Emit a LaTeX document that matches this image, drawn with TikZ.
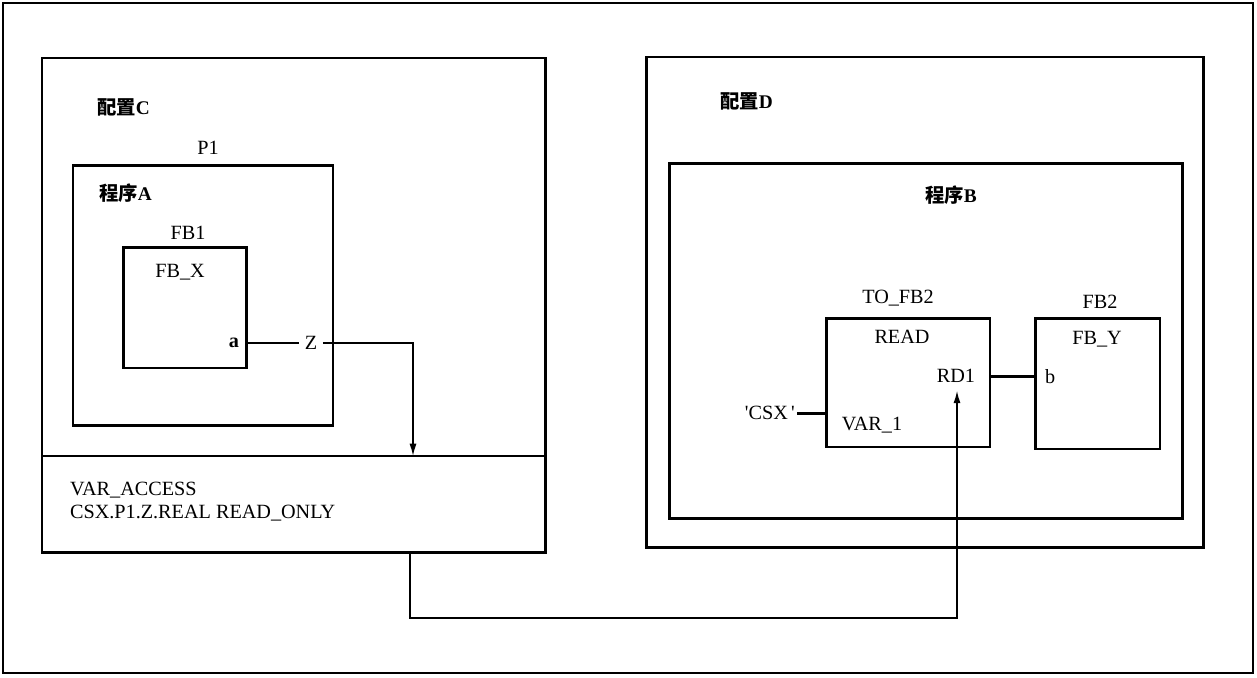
\documentclass[tikz,border=0pt]{standalone}
\usepackage{fontspec}
\setmainfont{Liberation Serif}
\newfontfamily\cjk{Noto Sans CJK SC}
\usepackage{tikz}
\usetikzlibrary{positioning,arrows.meta,calc}

\tikzset{
  framebox/.style={draw, line width=1.2pt},
  cfgbox/.style={draw, line width=1.7pt},
  fbbox/.style={draw, line width=1.7pt, inner sep=0pt},
  thinline/.style={line width=0.8pt},
  thickline/.style={line width=1.7pt},
  lbl/.style={inner sep=1pt, font=\fontsize{11.5}{13}\selectfont},
  cjklbl/.style={inner sep=1pt, font=\fontsize{11}{13}\selectfont\bfseries},
}
\newcommand{\zh}[1]{{\cjk\bfseries #1}}

\begin{document}
\begin{tikzpicture}[x=0.02cm, y=-0.02cm, >={Latex[length=7pt,width=4pt]}]
  \useasboundingbox (0,0) rectangle (1257,677);
  % outer frame and configurations
  \draw[framebox] (3,3) rectangle (1253,673);
  \draw[cfgbox] (42,58) rectangle (545,552);
  \draw[thinline] (42,456) -- (545,456);
  \draw[cfgbox] (646,57) rectangle (1203,547);
  \draw[cfgbox] (669,163) rectangle (1182,518);
  \draw[cfgbox] (73,165) rectangle (333,425);

  \node[cjklbl, anchor=west] (cfgc) at (95,107) {\zh{配置}C};
  \node[cjklbl, anchor=west] (cfgd) at (718,101) {\zh{配置}D};
  \node[lbl] (p1) at (208,148) {P1};
  \node[cjklbl, anchor=west] (proga) at (97,193) {\zh{程序}A};
  \node[cjklbl] (progb) at (951,195) {\zh{程序}B};

  % function blocks
  \node[fbbox, minimum width=2.48cm, minimum height=2.42cm] (fbx) at (185,307.5) {};
  \node[fbbox, minimum width=3.28cm, minimum height=2.58cm] (fbread) at (908,382.5) {};
  \node[fbbox, minimum width=2.5cm, minimum height=2.62cm] (fby) at (1097.5,383.5) {};

  \node[lbl] (fb1) at (188,233) {FB1};
  \node[lbl] (fbxname) at (180,272) {FB\_X};
  \node[lbl, anchor=east] (a) at (241,343) {\textbf{a}};
  \node[lbl, inner sep=3pt] (z) at (311,343) {Z};

  \node[lbl] (tofb2) at (898,298) {TO\_FB2};
  \node[lbl] (read) at (902,337) {READ};
  \node[lbl] (rd1) at (956,376) {RD1};
  \node[lbl] (var1) at (872,425) {VAR\_1};
  \node[lbl, anchor=east] (csx) at (797,413) {\textquotesingle CSX\,\textquotesingle};

  \node[lbl] (fb2) at (1100,302) {FB2};
  \node[lbl] (fbyname) at (1097,339) {FB\_Y};
  \node[lbl, anchor=west] (b) at (1043,377) {b};

  \node[lbl, anchor=west, align=left, font=\fontsize{11.5}{13}\selectfont] (access) at (68,501.5)
    {VAR\_ACCESS\\CSX.P1.Z.REAL READ\_ONLY};

  % connections
  \coordinate (accin) at (413,456);
  \coordinate (cfgcout) at (410,552);
  \draw[thinline] (a.east -| fbx.east) -- (z.west);
  \draw[thinline, ->] (z.east) -| (accin);
  \draw[thickline] (fbread.east |- rd1) -- (fby.west |- rd1);
  \draw[thickline] (csx.east) -- (csx.east -| fbread.west);
  \draw[thinline, ->] (cfgcout) -- ($(cfgcout)+(0,66)$) -| ($(rd1.south)+(1,6)$);
\end{tikzpicture}
\end{document}
